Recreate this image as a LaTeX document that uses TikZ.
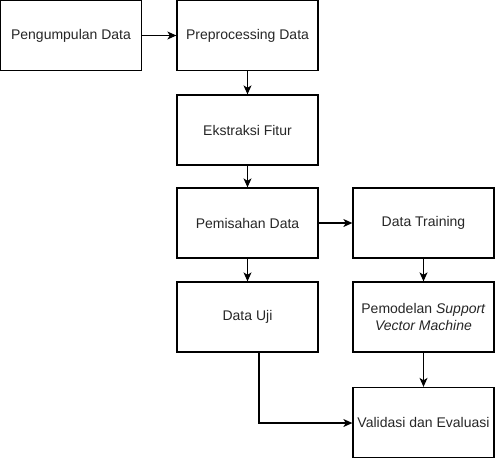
\documentclass[tikz,border=0pt]{standalone}
\usepackage{fontspec}
\setmainfont{Liberation Sans}
\usetikzlibrary{arrows.meta}
\begin{document}
\begin{tikzpicture}[x=1pt,y=-1pt,
  box/.style={draw, line width=1.3pt, rectangle, minimum width=141pt, minimum height=70pt, inner sep=0pt, align=center, font=\fontsize{14}{17}\selectfont, text=black!85},
  arr/.style={line width=1.1pt, -{Stealth[length=9pt,width=8pt,inset=2.5pt]}}]
\useasboundingbox (0,0) rectangle (495,459);
\node[box] (a) at (71,35.5) {Pengumpulan Data};
\node[box] (b) at (247.5,35.5) {Preprocessing Data};
\node[box] (c) at (247.5,130) {Ekstraksi Fitur};
\node[box] (d) at (247.5,223) {Pemisahan Data};
\node[box] (e) at (423.5,223) {Data Training};
\node[box] (f) at (247.5,317) {Data Uji};
\node[box] (g) at (423.5,317) {Pemodelan \textit{Support}\\\textit{Vector Machine}};
\node[box] (h) at (423.5,422.5) {Validasi dan Evaluasi};
\coordinate (k) at (259,423);
\draw[arr] (a) -- (b);
\draw[arr] (b) -- (c);
\draw[arr] (c) -- (d);
\draw[arr] (d) -- (e);
\draw[arr] (d) -- (f);
\draw[arr] (e) -- (g);
\draw[arr] (g) -- (h);
\draw[arr] (f.south -| k) -- (k) -- (h.west |- k);
\end{tikzpicture}
\end{document}
